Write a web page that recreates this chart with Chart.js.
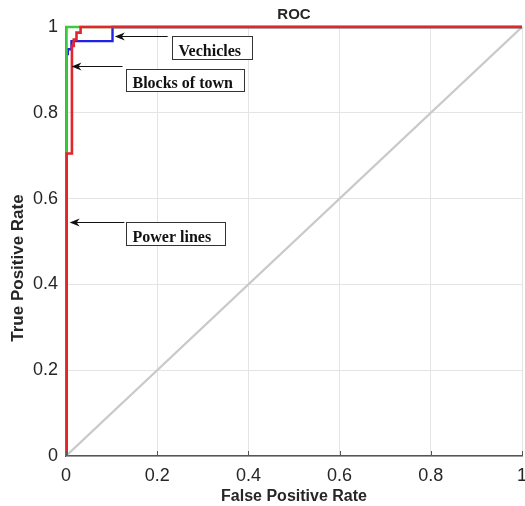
<!DOCTYPE html>
<html>
<head>
<meta charset="utf-8">
<title>ROC</title>
<script src="https://cdn.jsdelivr.net/npm/chart.js@4"></script>
<style>
  html, body { margin: 0; padding: 0; background: #fff; }
  canvas { display: block; }
</style>
</head>
<body>
<canvas id="rocChart" width="525" height="506"></canvas>
<script>
// ROC curves (false positive rate / true positive rate)
const fprVehicles = [0.001, 0.001, 0.004, 0.004, 0.012, 0.012, 0.102, 0.102, 1];
const tprVehicles = [0, 0.937, 0.937, 0.948, 0.948, 0.967, 0.967, 1, 1];

const fprBlocks = [0.001, 0.001, 1];
const tprBlocks = [0, 1, 1];

const fprPower = [0.0015, 0.0015, 0.013, 0.013, 0.017, 0.017, 0.023, 0.023, 0.032, 0.032, 1];
const tprPower = [0, 0.705, 0.705, 0.956, 0.956, 0.971, 0.971, 0.987, 0.987, 1, 1];

const fprChance = [0, 1];
const tprChance = [0, 1];

const tickValues = [0, 0.2, 0.4, 0.6, 0.8, 1];
const tickLabels = ['0', '0.2', '0.4', '0.6', '0.8', '1'];

// Callouts: arrow tip / tail and box corner in data units
const notes = [
    { text: 'Vechicles',      tip: [0.107, 0.979], tail: 0.223, box: [0.2335, 0.979], w: 80,  h: 23 },
    { text: 'Blocks of town', tip: [0.012, 0.908], tail: 0.124, box: [0.131, 0.902],  w: 118, h: 22 },
    { text: 'Power lines',    tip: [0.008, 0.545], tail: 0.128, box: [0.1325, 0.545], w: 99,  h: 23 }
];

function toPoints(xs, ys) {
    return xs.map((x, i) => ({ x: x, y: ys[i] }));
}

// --- Plugins ---

// title, y title, inward ticks and the callouts
const extrasPlugin = {
    id: 'extras',
    afterDraw(chart) {
        const ctx = chart.ctx;
        const area = chart.chartArea;
        const xs = chart.scales.x;
        const ys = chart.scales.y;

        ctx.save();
        // inward tick marks
        ctx.strokeStyle = '#555';
        ctx.lineWidth = 1;
        tickValues.forEach(v => {
            const px = Math.round(xs.getPixelForValue(v)) + 0.5;
            ctx.beginPath();
            ctx.moveTo(px, area.bottom);
            ctx.lineTo(px, area.bottom - 5);
            ctx.stroke();
        });

        // title
        ctx.fillStyle = '#262626';
        ctx.font = 'bold 15px "Liberation Sans", Arial, sans-serif';
        ctx.textAlign = 'center';
        ctx.textBaseline = 'middle';
        ctx.fillText('ROC', (area.left + area.right) / 2, 15);

        // y axis title
        ctx.save();
        ctx.translate(18, 268);
        ctx.rotate(-Math.PI / 2);
        ctx.font = 'bold 17px "Liberation Sans", Arial, sans-serif';
        ctx.fillText('True Positive Rate', 0, 0);
        ctx.restore();

        // callouts
        notes.forEach(n => {
            const tx = xs.getPixelForValue(n.tip[0]);
            const ty = Math.round(ys.getPixelForValue(n.tip[1])) + 0.5;
            const ex = xs.getPixelForValue(n.tail);
            ctx.strokeStyle = '#111';
            ctx.fillStyle = '#111';
            ctx.lineWidth = 1;
            ctx.beginPath();
            ctx.moveTo(ex, ty);
            ctx.lineTo(tx + 5, ty);
            ctx.stroke();
            ctx.beginPath();
            ctx.moveTo(tx, ty);
            ctx.lineTo(tx + 10, ty - 4);
            ctx.lineTo(tx + 7, ty);
            ctx.lineTo(tx + 10, ty + 4);
            ctx.closePath();
            ctx.fill();

            const bx = Math.round(xs.getPixelForValue(n.box[0])) + 0.5;
            const by = Math.round(ys.getPixelForValue(n.box[1])) + 0.5;
            ctx.fillStyle = '#fff';
            ctx.fillRect(bx, by, n.w, n.h);
            ctx.strokeStyle = '#333';
            ctx.strokeRect(bx, by, n.w, n.h);
            ctx.fillStyle = '#111';
            ctx.font = 'bold 16px "Liberation Serif", "Times New Roman", serif';
            ctx.textAlign = 'left';
            ctx.textBaseline = 'alphabetic';
            ctx.fillText(n.text, bx + 6, by + n.h - 4);
        });
        ctx.restore();
    }
};

// --- Chart ---

const tickFont = { family: '"Liberation Sans", Arial, sans-serif', size: 18 };

new Chart(document.getElementById('rocChart').getContext('2d'), {
    type: 'scatter',
    data: {
        datasets: [
            { label: 'Power lines', data: toPoints(fprPower, tprPower), borderColor: '#e3262b', borderWidth: 2.6, order: 0 },
            { label: 'Blocks of town', data: toPoints(fprBlocks, tprBlocks), borderColor: '#3acc3a', borderWidth: 2.6, order: 1 },
            { label: 'Vechicles', data: toPoints(fprVehicles, tprVehicles), borderColor: '#1f22e3', borderWidth: 2.4, order: 2 },
            { label: 'Chance', data: toPoints(fprChance, tprChance), borderColor: '#c9c9c9', borderWidth: 2.4, order: 3 }
        ].map(d => Object.assign(d, { showLine: true, pointRadius: 0, pointHoverRadius: 0, tension: 0, fill: false, clip: false }))
    },
    options: {
        responsive: false,
        animation: false,
        events: [],
        layout: { padding: { top: 27, right: 3, left: 0, bottom: 0 } },
        plugins: {
            legend: { display: false },
            tooltip: { enabled: false },
            title: { display: false }
        },
        scales: {
            x: {
                type: 'linear',
                min: 0,
                max: 1,
                afterBuildTicks: s => { s.ticks = tickValues.map(v => ({ value: v })); },
                ticks: {
                    callback: (v, i) => tickLabels[i],
                    color: '#262626',
                    font: tickFont,
                    padding: 9,
                    maxRotation: 0
                },
                grid: { color: '#e4e4e4', lineWidth: 1, drawTicks: false },
                border: { color: '#555', width: 1.5 },
                title: {
                    display: true,
                    text: 'False Positive Rate',
                    color: '#262626',
                    font: { family: '"Liberation Sans", Arial, sans-serif', size: 16, weight: 'bold' },
                    padding: { top: 0, bottom: 0 }
                },
                afterFit: s => { s.height = 50; s.paddingLeft = 0; s.paddingRight = 0; }
            },
            y: {
                type: 'linear',
                min: 0,
                max: 1,
                afterBuildTicks: s => { s.ticks = tickValues.map(v => ({ value: v })); },
                ticks: {
                    callback: (v, i) => tickLabels[i],
                    color: '#262626',
                    font: tickFont,
                    padding: 8
                },
                grid: { color: '#e4e4e4', lineWidth: 1, drawTicks: false },
                border: { color: '#555', width: 1.5 },
                afterFit: s => { s.width = 66; s.paddingTop = 0; s.paddingBottom = 0; }
            }
        }
    },
    plugins: [extrasPlugin]
});
</script>
</body>
</html>
